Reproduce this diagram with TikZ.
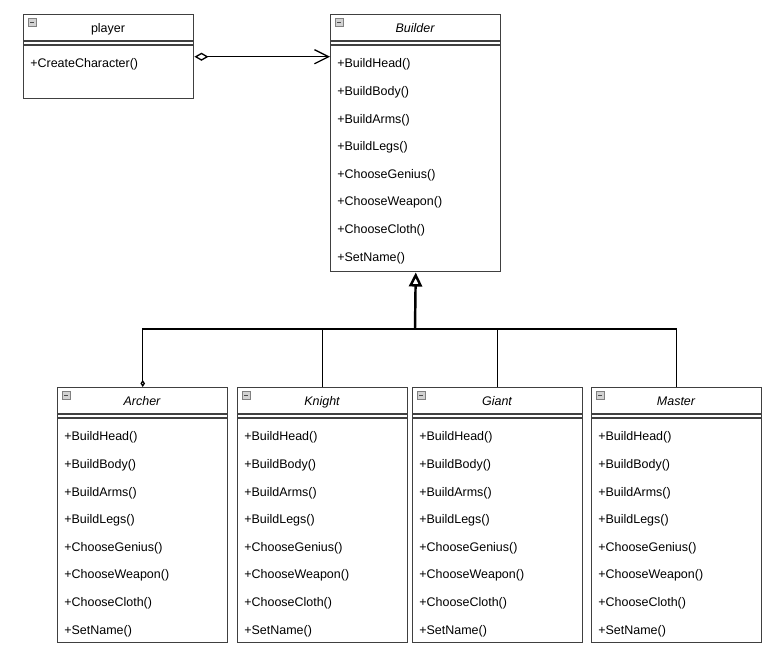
\documentclass[tikz,border=0pt]{standalone}
\usepackage{fontspec}
\setmainfont{Liberation Sans}
\usepackage{xcolor}
\usetikzlibrary{arrows.meta}

\definecolor{boxgray}{HTML}{404040}

% one class: name, x, y, height, title, title font, operations
\newcommand{\umlclass}[7]{%
  \node[classbox, minimum height=#4*0.02cm] (#1) at (#2,#3) {};
  \node[classtitle, font=\umlfont#6] (#1-title) at (#2+85,#3+18.5) {#5};
  \draw[boxline] (#2,#3+27) -- ++(170,0);
  \draw[boxline] (#2,#3+31) -- ++(170,0);
  \draw[icon] (#2+5,#3+4) rectangle ++(8,8);
  \draw[black!70, line width=0.5pt] (#2+7,#3+8) -- ++(4,0);
  \foreach \op [count=\i from 0] in #7
    \node[method] at (#2+7,#3+54+27.6*\i) {+\op()};
}
\newcommand{\umlfont}{\fontsize{7.1}{8.5}\selectfont}
\newcommand{\buildops}{BuildHead,BuildBody,BuildArms,BuildLegs,ChooseGenius,ChooseWeapon,ChooseCloth,SetName}

\begin{document}
\begin{tikzpicture}[x=0.02cm, y=-0.02cm,
    classbox/.style={rectangle, draw=boxgray, line width=0.85pt, fill=white, minimum width=3.4cm, inner sep=0pt, anchor=north west},
    classtitle/.style={inner sep=0pt, anchor=base},
    boxline/.style={draw=boxgray, line width=0.85pt},
    icon/.style={draw=gray, fill=gray!35, line width=0.4pt},
    method/.style={anchor=base west, inner sep=0pt, font=\umlfont},
    assoc/.style={line width=0.75pt, {Diamond[open, length=8pt, width=4.6pt]}-{Straight Barb[length=8pt, width=8pt]}},
    subline/.style={line width=0.75pt}]
    \useasboundingbox (0,0) rectangle (772,651);

    \umlclass{player}{23}{14}{84}{player}{}{{CreateCharacter}}
    \umlclass{builder}{330}{14}{257}{Builder}{\itshape}{\buildops}
    \umlclass{archer}{57}{387}{255}{Archer}{\itshape}{\buildops}
    \umlclass{knight}{237}{387}{255}{Knight}{\itshape}{\buildops}
    \umlclass{giant}{412}{387}{255}{Giant}{\itshape}{\buildops}
    \umlclass{master}{591}{387}{255}{Master}{\itshape}{\buildops}

    \coordinate (bus) at (415,329);

    \draw[assoc] (player.east) -- (player.east -| builder.west);

    \draw[line width=1.4pt, -{Triangle[open, length=8pt, width=7.5pt]}] (bus) -- (builder.south);
    \draw[subline, {Diamond[open, length=4pt, width=2.6pt]}-] (archer.north) |- (bus);
    \draw[subline] (knight.north) |- (bus);
    \draw[subline] (giant.north) |- (bus);
    \draw[subline] (master.north) |- (bus);
\end{tikzpicture}
\end{document}
